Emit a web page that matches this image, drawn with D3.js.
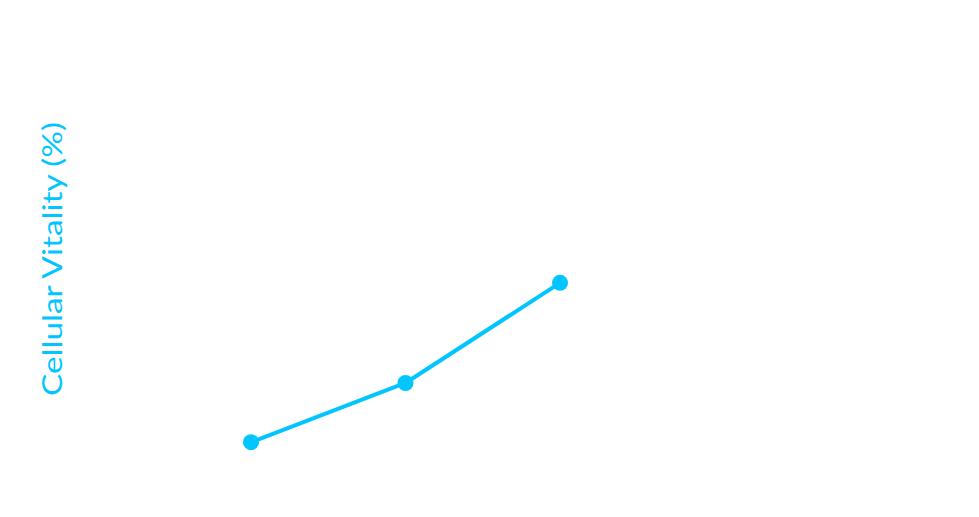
<!DOCTYPE html>
<html>
<head>
<meta charset="utf-8">
<script src="https://cdn.jsdelivr.net/npm/d3@7/dist/d3.min.js"></script>
<style>
  html, body { margin: 0; padding: 0; background: #fff; }
  svg { display: block; }
</style>
</head>
<body>
<svg id="chart" width="979" height="517"></svg>
<script>
const timepoints = ["24h", "48h", "72h"];
const vitality = [12.3, 24.9, 46.2];
const yLabel = "Cellular Vitality (%)";

const W = 979, H = 517;
const color = "#00C5FF";
const svg = d3.select("#chart");

const x = d3.scalePoint().domain(timepoints).range([251, 560]);
const y = d3.scaleLinear().domain([0, 100]).range([500, 30]);

const data = timepoints.map((t, i) => ({ t, v: vitality[i] }));

const line = d3.line().x(d => x(d.t)).y(d => y(d.v));

svg.append("path")
  .datum(data)
  .attr("fill", "none")
  .attr("stroke", color)
  .attr("stroke-width", 4)
  .attr("stroke-linejoin", "round")
  .attr("d", line);

svg.selectAll("circle.pt")
  .data(data)
  .join("circle")
  .attr("class", "pt")
  .attr("cx", d => x(d.t))
  .attr("cy", d => y(d.v))
  .attr("r", 8)
  .attr("fill", color);

svg.append("text")
  .attr("transform", "translate(62,259) rotate(-90)")
  .attr("text-anchor", "middle")
  .attr("font-family", "Lato, 'Open Sans', sans-serif")
  .attr("font-size", 27)
  .attr("fill", color)
  .attr("textLength", 274)
  .attr("lengthAdjust", "spacingAndGlyphs")
  .text(yLabel);
</script>
</body>
</html>
